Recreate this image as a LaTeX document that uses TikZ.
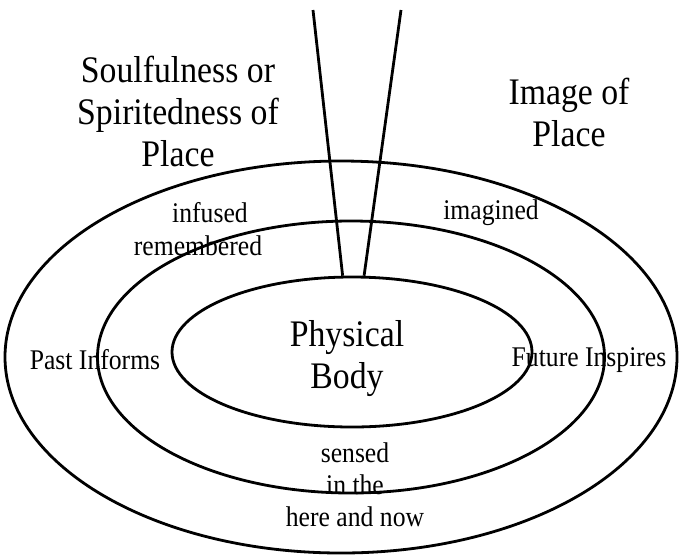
\documentclass[tikz,border=0pt]{standalone}
\usepackage{fontspec}
\setmainfont[FakeStretch=0.9]{Liberation Serif}
\usetikzlibrary{shapes.geometric,positioning}
\tikzset{
  ring/.style={
    draw=black,
    ellipse,
    line width=2.8pt,
    inner sep=0pt
  },
  bigtext/.style={align=center, font=\fontsize{37.5}{42}\selectfont},
  smalltext/.style={align=center, font=\fontsize{28.5}{32}\selectfont},
  ray/.style={draw=black, line width=2.8pt}
}
\begin{document}
\begin{tikzpicture}[x=1pt, y=-1pt]
  \useasboundingbox (0,0) rectangle (679,558);
  \node[ring, minimum width=672pt, minimum height=392pt] (outer) at (341,357) {};
  \node[ring, minimum width=507pt, minimum height=272pt] (middle) at (351,357) {};
  \node[ring, minimum width=360pt, minimum height=150pt] (body) at (352,352) {};

  \node[bigtext] (bodytext) at (347,359) {Physical\\Body};
  \node[bigtext] (soul) at (178,111) {Soulfulness or\\Spiritedness of\\Place};
  \node[bigtext] (image) at (569,112) {Image of\\Place};
  \node[smalltext] (infused) at (210,213) {infused};
  \node[smalltext] (remembered) at (198,246) {remembered};
  \node[smalltext] (imagined) at (491,213) {imagined};
  \node[smalltext] (past) at (95,360) {Past Informs};
  \node[smalltext] (future) at (589,360) {Future Inspires};
  \node[smalltext] (sensed) at (355,485) {sensed\\in the\\here and now};

  \coordinate (leftTop) at (313,10);
  \coordinate (rightTop) at (401,10);
  \draw[ray] (leftTop) -- (body.97.6);
  \draw[ray] (rightTop) -- (body.81.7);
\end{tikzpicture}
\end{document}
